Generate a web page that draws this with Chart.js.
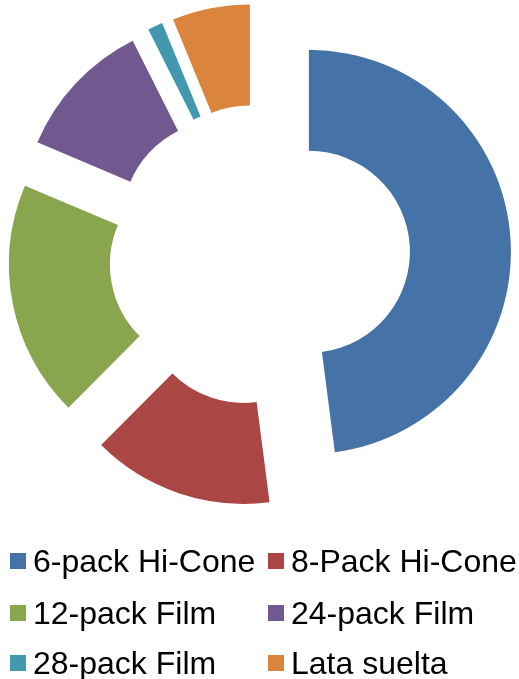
<!DOCTYPE html>
<html>
<head>
<meta charset="utf-8">
<script src="https://cdn.jsdelivr.net/npm/chart.js@4"></script>
<style>
    body { margin: 0; background: #fff; }
    #wrap { position: relative; width: 519px; height: 679px; }
    #legend { position: absolute; left: 0; top: 0; width: 519px; height: 679px; pointer-events: none; }
    .lg-item {
        position: absolute; display: flex; align-items: center;
        font-family: 'Liberation Sans', Arial, sans-serif; font-size: 32px; color: #000;
        line-height: 1; white-space: nowrap;
    }
    .lg-box { width: 16px; height: 16px; margin-right: 7px; flex: none; }
</style>
</head>
<body>
<div id="wrap">
    <canvas id="donut" width="519" height="510"></canvas>
    <div id="legend"></div>
</div>
<script>
// Data
const categories = ['6-pack Hi-Cone', '8-Pack Hi-Cone', '12-pack Film', '24-pack Film', '28-pack Film', 'Lata suelta'];
const shares = [47.9, 14.5, 18.9, 11.2, 1.2, 6.2];
const sliceColors = ['#4572A7', '#AA4643', '#89A54E', '#71588F', '#4198AF', '#DB843D'];

// Pull every slice out by the same distance along its middle angle
const explodePlugin = {
    id: 'explode',
    beforeDatasetDraw(chart, args, opts) {
        const ctx = chart.ctx;
        args.meta.data.forEach(arc => {
            const mid = (arc.startAngle + arc.endAngle) / 2;
            ctx.save();
            ctx.translate(Math.cos(mid) * opts.distance, Math.sin(mid) * opts.distance);
            arc.draw(ctx);
            ctx.restore();
        });
        return false;
    }
};

const chart = new Chart(document.getElementById('donut'), {
    type: 'doughnut',
    data: {
        labels: categories,
        datasets: [{
            data: shares,
            backgroundColor: sliceColors,
            borderWidth: 0,
            offset: 0,
            hoverOffset: 0
        }]
    },
    options: {
        responsive: false,
        animation: false,
        radius: 202,
        cutout: '50%',
        layout: { padding: 0 },
        plugins: {
            explode: { distance: 49.5 },
            legend: { display: false },
            tooltip: { enabled: false }
        }
    },
    plugins: [explodePlugin]
});

// Legend (two columns, three rows)
const legendEl = document.getElementById('legend');
const colX = [10, 268];
const rowY = [561, 613, 663];
chart.data.labels.forEach((label, i) => {
    const item = document.createElement('div');
    item.className = 'lg-item';
    item.style.left = colX[i % 2] + 'px';
    item.style.top = (rowY[Math.floor(i / 2)] - 16) + 'px';
    item.style.height = '32px';
    item.innerHTML = `<span class="lg-box" style="background:${sliceColors[i]}"></span><span>${label}</span>`;
    legendEl.appendChild(item);
});
</script>
</body>
</html>
